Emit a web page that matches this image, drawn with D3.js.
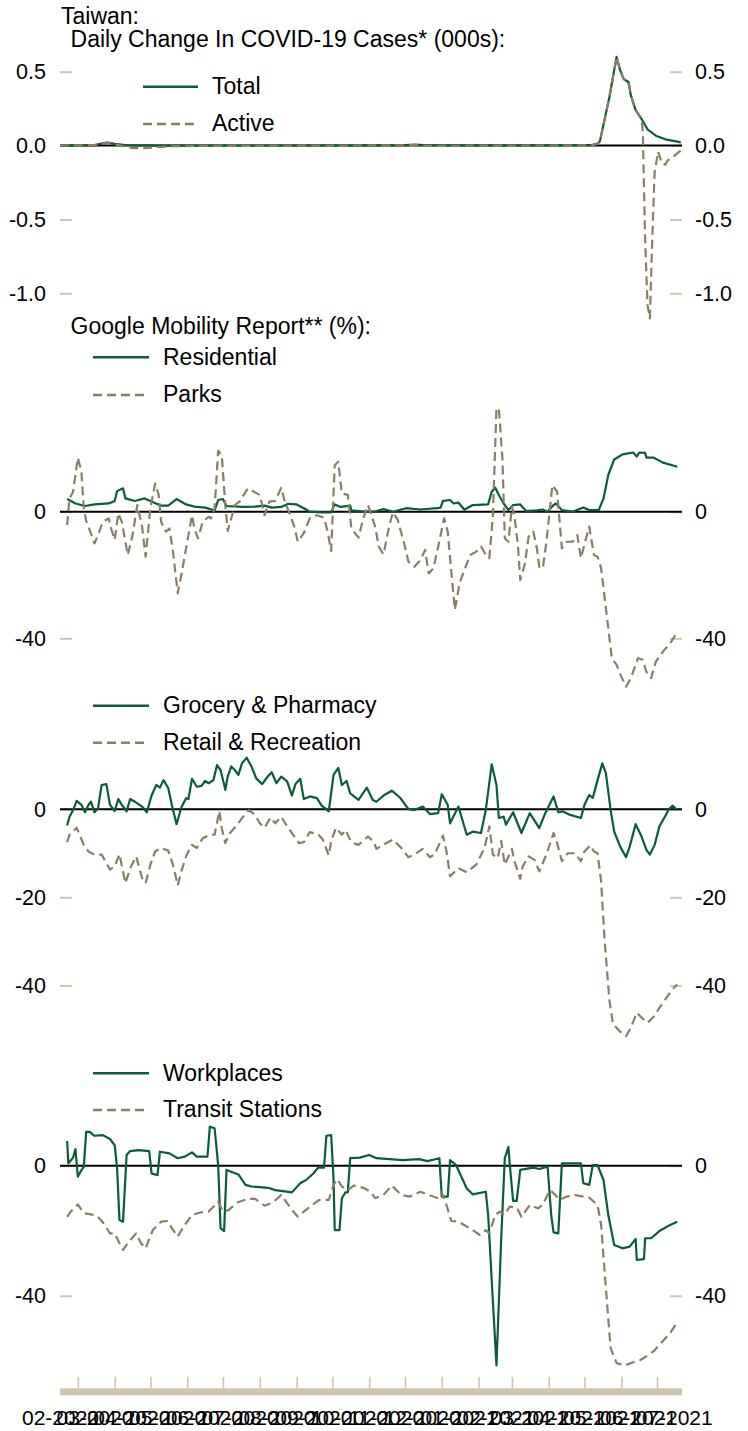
<!DOCTYPE html>
<html>
<head>
<meta charset="utf-8">
<script src="https://cdn.jsdelivr.net/npm/d3@7"></script>
<style>
  html, body { margin: 0; padding: 0; background: #ffffff; }
  svg { display: block; font-family: "Liberation Sans", Arial, sans-serif; }
</style>
</head>
<body>
<svg id="chart" width="748" height="1431"></svg>
<script>
// ---------------- DATA ----------------
const xStart = "2020-02-15";
const xEnd = "2021-07-22";
const monthTickStarts = ["2020-03-01","2020-04-01","2020-05-01","2020-06-01","2020-07-01","2020-08-01","2020-09-01","2020-10-01","2020-11-01","2020-12-01","2021-01-01","2021-02-01","2021-03-01","2021-04-01","2021-05-01","2021-06-01","2021-07-01"];
const monthLabels = ["02-2020","03-2020","04-2020","05-2020","06-2020","07-2020","08-2020","09-2020","10-2020","11-2020","12-2020","01-2021","02-2021","03-2021","04-2021","05-2021","06-2021","07-2021"];
const monthLabelDates = ["2020-02-15","2020-03-15","2020-04-15","2020-05-15","2020-06-15","2020-07-15","2020-08-15","2020-09-15","2020-10-15","2020-11-15","2020-12-15","2021-01-15","2021-02-15","2021-03-15","2021-04-15","2021-05-15","2021-06-15","2021-07-15"];

// Panel 1: daily change in COVID-19 cases (000s)
const casesTicks = [0.5, 0, -0.5, -1.0];
const casesTickLabels = ["0.5","0.0","-0.5","-1.0"];
const totalCases = [["2020-02-15",0],["2020-03-15",0.003],["2020-03-22",0.015],["2020-03-26",0.02],["2020-04-01",0.012],["2020-04-10",0.004],["2020-04-25",0.001],["2020-05-15",0],["2020-10-25",0.001],["2020-12-01",0.003],["2020-12-10",0.006],["2020-12-20",0.002],["2021-01-20",0.001],["2021-04-20",0.002],["2021-05-08",0.005],["2021-05-12",0.013],["2021-05-14",0.03],["2021-05-22",0.33],["2021-05-28",0.60],["2021-05-31",0.51],["2021-06-03",0.45],["2021-06-07",0.43],["2021-06-09",0.34],["2021-06-13",0.24],["2021-06-18",0.18],["2021-06-23",0.11],["2021-06-30",0.067],["2021-07-09",0.04],["2021-07-16",0.03],["2021-07-21",0.022]];
const activeCases = [["2020-02-15",0],["2020-03-15",0.003],["2020-03-22",0.015],["2020-03-26",0.02],["2020-04-01",0.008],["2020-04-08",-0.004],["2020-04-15",-0.015],["2020-04-25",-0.018],["2020-05-05",-0.012],["2020-05-20",-0.004],["2020-06-20",-0.002],["2020-09-01",-0.001],["2020-12-01",0.002],["2020-12-10",0.004],["2020-12-20",-0.002],["2021-01-20",-0.001],["2021-04-20",0.001],["2021-05-08",0.005],["2021-05-12",0.013],["2021-05-14",0.03],["2021-05-22",0.33],["2021-05-28",0.60],["2021-05-31",0.51],["2021-06-03",0.45],["2021-06-07",0.43],["2021-06-09",0.34],["2021-06-13",0.24],["2021-06-18",0.18],["2021-06-19",0.1],["2021-06-21",-0.63],["2021-06-23",-1.08],["2021-06-25",-1.17],["2021-06-27",-0.63],["2021-06-29",-0.18],["2021-07-02",-0.04],["2021-07-05",-0.12],["2021-07-08",-0.13],["2021-07-10",-0.1],["2021-07-14",-0.08],["2021-07-19",-0.045],["2021-07-21",-0.035]];

// Panel 2
const mobTicks2 = [0, -40];
const mobTickLabels2 = ["0","-40"];
const residential = [["2020-02-21",4.0],["2020-02-28",2.6],["2020-03-07",1.8],["2020-03-15",2.3],["2020-03-27",2.6],["2020-04-01",3.4],["2020-04-03",6.5],["2020-04-08",7.4],["2020-04-10",4.2],["2020-04-18",3.4],["2020-04-26",4.2],["2020-05-02",3.2],["2020-05-10",1.9],["2020-05-16",1.9],["2020-05-23",4.0],["2020-05-31",2.3],["2020-06-07",1.6],["2020-06-16",1.3],["2020-06-24",0.4],["2020-06-27",3.7],["2020-07-01",4.0],["2020-07-04",1.8],["2020-07-17",1.5],["2020-07-28",1.6],["2020-08-05",1.9],["2020-08-11",1.3],["2020-08-19",1.5],["2020-08-25",2.5],["2020-09-01",2.3],["2020-09-07",1.1],["2020-09-12",0],["2020-09-22",-0.2],["2020-09-30",-0.2],["2020-10-03",2.3],["2020-10-08",1.5],["2020-10-16",1.9],["2020-10-17",0.4],["2020-10-28",0],["2020-11-05",0],["2020-11-13",0.8],["2020-11-21",0],["2020-12-02",1.1],["2020-12-14",0.7],["2020-12-28",1.1],["2020-12-31",1.3],["2021-01-02",3.4],["2021-01-08",3.7],["2021-01-11",2.6],["2021-01-15",2.9],["2021-01-20",0.6],["2021-01-27",2.1],["2021-02-09",2.3],["2021-02-12",6.3],["2021-02-15",7.6],["2021-02-18",5.3],["2021-02-22",2.6],["2021-02-26",0.5],["2021-03-02",2.1],["2021-03-08",2.3],["2021-03-13",0.2],["2021-03-22",0.4],["2021-03-27",0.7],["2021-03-31",0],["2021-04-05",2.1],["2021-04-07",2.6],["2021-04-12",0.5],["2021-04-21",0],["2021-04-30",1.3],["2021-05-05",0.5],["2021-05-13",0.5],["2021-05-17",4.2],["2021-05-21",11.6],["2021-05-26",16.5],["2021-06-02",18.1],["2021-06-11",18.7],["2021-06-14",17.4],["2021-06-16",18.7],["2021-06-21",18.6],["2021-06-22",17.1],["2021-06-28",17.1],["2021-07-06",15.5],["2021-07-18",14.2]];
const parks = [["2020-02-21",-4.2],["2020-02-23",4.2],["2020-02-26",6.3],["2020-03-01",17.1],["2020-03-04",12.6],["2020-03-06",1.1],["2020-03-08",-2.9],["2020-03-11",-5.8],["2020-03-15",-10],["2020-03-18",-7.4],["2020-03-22",-3.2],["2020-03-27",-2.1],["2020-03-29",-5.3],["2020-04-01",-8.9],["2020-04-04",-0.5],["2020-04-07",-3.2],["2020-04-12",-13.7],["2020-04-16",-7.4],["2020-04-20",2.1],["2020-04-24",-4.7],["2020-04-27",-14.2],["2020-05-01",1.1],["2020-05-05",8.9],["2020-05-08",5.3],["2020-05-10",-3.2],["2020-05-14",-6.3],["2020-05-17",-5.3],["2020-05-20",-12.6],["2020-05-24",-25.8],["2020-05-27",-20],["2020-05-31",-11.6],["2020-06-05",-1.1],["2020-06-07",-5.3],["2020-06-10",-8.4],["2020-06-14",-3.2],["2020-06-19",-1.6],["2020-06-21",-2.1],["2020-06-24",1.1],["2020-06-27",19.2],["2020-06-30",17.9],["2020-07-03",2.1],["2020-07-05",-6.1],["2020-07-08",-2.1],["2020-07-11",2.1],["2020-07-15",3.2],["2020-07-22",7.4],["2020-07-28",6.1],["2020-08-01",5.3],["2020-08-05",-1.1],["2020-08-09",3.2],["2020-08-14",3.4],["2020-08-19",7.6],["2020-08-22",3.2],["2020-08-26",-0.5],["2020-08-30",-4.7],["2020-09-02",-9.5],["2020-09-07",-6.8],["2020-09-12",-2.1],["2020-09-18",-1.1],["2020-09-24",-1.9],["2020-09-27",-6.3],["2020-09-30",-12.4],["2020-10-03",14.7],["2020-10-06",15.8],["2020-10-09",5.8],["2020-10-14",5.3],["2020-10-17",-5.3],["2020-10-23",-8.2],["2020-10-27",-2.1],["2020-10-31",2.1],["2020-11-06",-4.7],["2020-11-09",-11],["2020-11-13",-13.5],["2020-11-18",-4.2],["2020-11-21",-0.2],["2020-11-25",-2.6],["2020-11-30",-9.5],["2020-12-04",-15.8],["2020-12-09",-17.4],["2020-12-14",-15.3],["2020-12-18",-12.1],["2020-12-21",-19.5],["2020-12-25",-17.9],["2020-12-29",-11],["2021-01-03",-2.1],["2021-01-06",-6.3],["2021-01-09",-18.9],["2021-01-12",-31],["2021-01-16",-22.6],["2021-01-20",-18.4],["2021-01-25",-13.7],["2021-01-30",-12.6],["2021-02-03",-11],["2021-02-08",-14.2],["2021-02-10",-14.7],["2021-02-13",-1.1],["2021-02-16",32.6],["2021-02-18",32.6],["2021-02-21",16.8],["2021-02-23",-8.4],["2021-02-26",-9.5],["2021-03-01",1.6],["2021-03-03",-1.1],["2021-03-06",-10.5],["2021-03-08",-21.6],["2021-03-12",-16.3],["2021-03-15",-7.9],["2021-03-19",-6.3],["2021-03-22",-11.6],["2021-03-24",-17.4],["2021-03-27",-17.9],["2021-03-30",-9.5],["2021-04-04",8.4],["2021-04-08",6.3],["2021-04-12",-11.6],["2021-04-16",-9.5],["2021-04-21",-9.5],["2021-04-25",-7.4],["2021-04-28",-14.7],["2021-05-03",-7.4],["2021-05-05",-4.7],["2021-05-09",-13.7],["2021-05-12",-14.2],["2021-05-15",-17.9],["2021-05-19",-30.5],["2021-05-24",-46.3],["2021-05-28",-48.4],["2021-06-01",-52.1],["2021-06-05",-55.3],["2021-06-09",-52.6],["2021-06-15",-46.3],["2021-06-19",-46.8],["2021-06-22",-50.5],["2021-06-26",-52.6],["2021-06-30",-47.4],["2021-07-06",-44.2],["2021-07-12",-41.6],["2021-07-17",-38.7]];

// Panel 3
const mobTicks3 = [0, -20, -40];
const mobTickLabels3 = ["0","-20","-40"];
const grocery = [["2020-02-21",-3.7],["2020-02-23",-1.7],["2020-02-26",-0.2],["2020-02-29",1.9],["2020-03-04",1.0],["2020-03-07",-0.7],["2020-03-10",1.0],["2020-03-12",1.7],["2020-03-15",-0.7],["2020-03-18",0.2],["2020-03-21",5.5],["2020-03-25",5.7],["2020-03-28",1.0],["2020-04-01",-0.4],["2020-04-04",2.3],["2020-04-07",1.0],["2020-04-11",-0.5],["2020-04-14",2.3],["2020-04-18",1.7],["2020-04-24",0.6],["2020-04-28",-0.7],["2020-05-02",3.1],["2020-05-06",5.5],["2020-05-09",4.9],["2020-05-12",6.6],["2020-05-16",4.8],["2020-05-19",1.0],["2020-05-23",-3.4],["2020-05-27",0.4],["2020-05-31",2.5],["2020-06-02",2.3],["2020-06-05",6.9],["2020-06-09",5.1],["2020-06-13",5.3],["2020-06-16",6.4],["2020-06-19",5.9],["2020-06-23",6.6],["2020-06-26",10],["2020-06-29",8.9],["2020-07-03",4.4],["2020-07-05",7.4],["2020-07-08",9.7],["2020-07-11",8.9],["2020-07-14",7.8],["2020-07-17",10.4],["2020-07-21",11.7],["2020-07-25",9.7],["2020-07-29",7.0],["2020-08-03",5.7],["2020-08-07",7.2],["2020-08-11",8.4],["2020-08-15",5.9],["2020-08-19",7.4],["2020-08-24",6.3],["2020-08-28",3.1],["2020-08-31",5.7],["2020-09-04",6.9],["2020-09-07",2.3],["2020-09-12",2.9],["2020-09-18",2.5],["2020-09-22",0.8],["2020-09-28",-0.5],["2020-10-02",7.8],["2020-10-06",9.4],["2020-10-09",5.5],["2020-10-13",6.4],["2020-10-16",3.6],["2020-10-23",2.1],["2020-10-30",4.9],["2020-11-04",2.1],["2020-11-07",1.7],["2020-11-13",3.1],["2020-11-20",4.2],["2020-11-27",2.6],["2020-12-04",0],["2020-12-09",-0.2],["2020-12-16",0.6],["2020-12-22",-1.1],["2020-12-29",-0.9],["2021-01-01",3.4],["2021-01-06",1.0],["2021-01-08",-3.2],["2021-01-15",0.6],["2021-01-22",-5.8],["2021-01-27",-5.1],["2021-02-03",-5.4],["2021-02-07",-0.2],["2021-02-12",10.2],["2021-02-16",5.5],["2021-02-18",-2.0],["2021-02-22",-1.7],["2021-02-24",-3.5],["2021-03-02",-0.7],["2021-03-09",-5.4],["2021-03-16",-0.9],["2021-03-24",-4.3],["2021-03-29",-0.9],["2021-04-05",2.9],["2021-04-09",-0.7],["2021-04-13",-0.5],["2021-04-19",-1.3],["2021-04-28",-2.0],["2021-05-01",1.0],["2021-05-05",3.2],["2021-05-08",2.6],["2021-05-12",6.6],["2021-05-16",10.4],["2021-05-19",8.2],["2021-05-23",-0.2],["2021-05-26",-5.1],["2021-05-31",-8.5],["2021-06-05",-10.9],["2021-06-08",-8.5],["2021-06-13",-3.4],["2021-06-18",-6.2],["2021-06-22",-9.2],["2021-06-25",-10.3],["2021-06-29",-8.1],["2021-07-03",-3.9],["2021-07-07",-2.0],["2021-07-11",0],["2021-07-14",0.8],["2021-07-18",-0.2]];
const retail = [["2020-02-21",-7.5],["2020-02-23",-5.8],["2020-02-29",-4.2],["2020-03-06",-8.1],["2020-03-10",-9.6],["2020-03-15",-10.3],["2020-03-21",-10.3],["2020-03-28",-13.7],["2020-04-01",-13],["2020-04-05",-10.2],["2020-04-10",-16.8],["2020-04-14",-13.4],["2020-04-19",-10.7],["2020-04-24",-15.6],["2020-04-27",-16.8],["2020-05-01",-12.6],["2020-05-05",-9.6],["2020-05-10",-8.8],["2020-05-16",-9.4],["2020-05-20",-12.6],["2020-05-24",-17.3],["2020-05-27",-14.1],["2020-05-31",-10.7],["2020-06-05",-8.1],["2020-06-09",-8.8],["2020-06-14",-6.6],["2020-06-20",-5.8],["2020-06-24",-5.8],["2020-06-28",-0.4],["2020-06-30",-4.3],["2020-07-03",-7.7],["2020-07-07",-5.4],["2020-07-13",-3.5],["2020-07-18",-1.7],["2020-07-23",-0.2],["2020-07-28",-1.3],["2020-08-01",-3.2],["2020-08-05",-4.2],["2020-08-10",-1.9],["2020-08-14",-3.2],["2020-08-19",-1.7],["2020-08-24",-3.9],["2020-08-28",-5.4],["2020-09-03",-7.7],["2020-09-07",-7.5],["2020-09-12",-5.2],["2020-09-19",-5.7],["2020-09-23",-6.9],["2020-09-28",-10.5],["2020-09-30",-7.3],["2020-10-04",-4.2],["2020-10-09",-5.8],["2020-10-12",-4.7],["2020-10-17",-7.5],["2020-10-23",-8.1],["2020-10-31",-6.2],["2020-11-05",-7.5],["2020-11-07",-9],["2020-11-14",-7.9],["2020-11-21",-6.9],["2020-11-28",-8.8],["2020-12-04",-10.9],["2020-12-09",-10.3],["2020-12-16",-9],["2020-12-22",-10.9],["2020-12-26",-10.3],["2021-01-02",-6],["2021-01-05",-9.6],["2021-01-08",-15.2],["2021-01-15",-13.4],["2021-01-22",-14.3],["2021-01-30",-12.6],["2021-02-06",-8.8],["2021-02-10",-3.9],["2021-02-13",-10.3],["2021-02-17",-11.1],["2021-02-20",-7.2],["2021-02-23",-12.6],["2021-03-01",-9],["2021-03-03",-11.7],["2021-03-08",-15.8],["2021-03-10",-13],["2021-03-15",-10.7],["2021-03-20",-11.5],["2021-03-24",-14.1],["2021-03-30",-10.3],["2021-04-05",-5.4],["2021-04-08",-7.7],["2021-04-12",-11.8],["2021-04-17",-10],["2021-04-23",-10],["2021-04-28",-11.8],["2021-05-01",-9.6],["2021-05-06",-8.2],["2021-05-09",-9.6],["2021-05-12",-10],["2021-05-15",-16.4],["2021-05-18",-30],["2021-05-22",-43.5],["2021-05-25",-48.8],["2021-05-31",-50.5],["2021-06-05",-51.5],["2021-06-09",-49.6],["2021-06-14",-46.2],["2021-06-18",-47.3],["2021-06-23",-48.5],["2021-06-29",-46.9],["2021-07-03",-45.1],["2021-07-09",-42.8],["2021-07-14",-40.9],["2021-07-18",-39.8]];

// Panel 4
const mobTicks4 = [0, -40];
const mobTickLabels4 = ["0","-40"];
const workplaces = [["2020-02-21",7.6],["2020-02-22",0.7],["2020-02-26",2.5],["2020-02-28",5.1],["2020-03-01",-3.4],["2020-03-03",-2.0],["2020-03-06",-0.3],["2020-03-08",10.4],["2020-03-11",10.4],["2020-03-15",9.2],["2020-03-22",9.4],["2020-03-28",8.2],["2020-04-01",6.3],["2020-04-03",-0.8],["2020-04-05",-16.7],["2020-04-08",-17.2],["2020-04-11",3.3],["2020-04-14",4.5],["2020-04-21",4.8],["2020-04-30",4.5],["2020-05-02",-2.4],["2020-05-07",-2.9],["2020-05-09",4.3],["2020-05-17",3.8],["2020-05-24",2.3],["2020-05-30",2.8],["2020-06-05",4.1],["2020-06-09",2.8],["2020-06-18",2.8],["2020-06-20",12],["2020-06-24",11.5],["2020-06-27",0.2],["2020-06-29",-19.2],["2020-07-02",-20.1],["2020-07-04",-1.3],["2020-07-14",-2.7],["2020-07-20",-5.9],["2020-07-25",-6.4],["2020-08-08",-6.8],["2020-08-14",-7.5],["2020-08-28",-8.2],["2020-09-04",-5.4],["2020-09-09",-4.4],["2020-09-15",-2.4],["2020-09-19",-0.6],["2020-09-24",-0.6],["2020-09-26",9.2],["2020-09-30",9.4],["2020-10-02",-3.9],["2020-10-03",-19.8],["2020-10-07",-19.8],["2020-10-09",-10],["2020-10-12",-8.2],["2020-10-14",-8.2],["2020-10-16",2.3],["2020-10-24",2.5],["2020-11-01",3.3],["2020-11-07",2.3],["2020-11-18",2.0],["2020-11-29",1.7],["2020-12-13",2.0],["2020-12-20",1.4],["2020-12-30",2.3],["2021-01-01",-9.5],["2021-01-06",-9.5],["2021-01-08",1.7],["2021-01-13",0.2],["2021-01-22",-7],["2021-01-27",-8.8],["2021-02-07",-8],["2021-02-09",-15.1],["2021-02-13",-41.8],["2021-02-16",-61.4],["2021-02-20",-22.3],["2021-02-23",2.3],["2021-02-26",5.8],["2021-02-28",-2.9],["2021-03-02",-10.8],["2021-03-05",-10.8],["2021-03-08",-1.3],["2021-03-19",-0.6],["2021-03-24",-1.0],["2021-03-31",-0.3],["2021-04-03",-15.1],["2021-04-05",-20.5],["2021-04-09",-20.8],["2021-04-12",0.7],["2021-04-19",0.7],["2021-04-28",0.7],["2021-04-30",-5.4],["2021-05-05",-5.9],["2021-05-08",0.2],["2021-05-12",0.2],["2021-05-17",-4.4],["2021-05-21",-15.1],["2021-05-26",-24.4],["2021-06-02",-25.4],["2021-06-08",-24.9],["2021-06-13",-22.5],["2021-06-14",-29],["2021-06-20",-28.7],["2021-06-21",-22.3],["2021-06-26",-22.3],["2021-07-03",-20.1],["2021-07-12",-18.2],["2021-07-18",-17.2]];
const transit = [["2020-02-21",-15.7],["2020-02-24",-14.1],["2020-03-01",-11.9],["2020-03-06",-14.6],["2020-03-11",-14.9],["2020-03-17",-15.4],["2020-03-22",-17.4],["2020-03-28",-20.8],["2020-04-01",-20.8],["2020-04-04",-23.1],["2020-04-08",-25.9],["2020-04-12",-23.8],["2020-04-19",-20.8],["2020-04-23",-23.8],["2020-04-27",-25.4],["2020-05-03",-19.8],["2020-05-10",-17.2],["2020-05-16",-17],["2020-05-19",-19.2],["2020-05-24",-21.8],["2020-05-29",-18.7],["2020-06-05",-15.1],["2020-06-13",-14.3],["2020-06-19",-14.1],["2020-06-23",-12.6],["2020-06-27",-11.1],["2020-07-01",-14.1],["2020-07-06",-13.6],["2020-07-13",-11.3],["2020-07-22",-10.2],["2020-07-28",-10.2],["2020-08-05",-12.3],["2020-08-12",-11.3],["2020-08-19",-9],["2020-08-28",-13.6],["2020-09-02",-15.7],["2020-09-07",-14.1],["2020-09-14",-12.1],["2020-09-20",-10.5],["2020-09-28",-10.5],["2020-10-02",-5.9],["2020-10-05",-4.1],["2020-10-09",-6.4],["2020-10-14",-7.5],["2020-10-19",-6.1],["2020-10-27",-6.8],["2020-11-02",-8],["2020-11-06",-10],["2020-11-13",-9],["2020-11-20",-6.1],["2020-11-28",-9],["2020-12-05",-9.5],["2020-12-14",-8],["2020-12-21",-9],["2020-12-29",-10],["2021-01-01",-8.2],["2021-01-05",-12.1],["2021-01-09",-17],["2021-01-15",-17.2],["2021-01-22",-18.7],["2021-01-27",-19.8],["2021-02-02",-21.3],["2021-02-07",-19.8],["2021-02-10",-20.8],["2021-02-15",-15.1],["2021-02-19",-14.1],["2021-02-23",-15.1],["2021-02-27",-12.6],["2021-03-05",-12.9],["2021-03-09",-15.7],["2021-03-16",-12.1],["2021-03-23",-13.1],["2021-03-27",-11.9],["2021-04-02",-7.5],["2021-04-06",-8.8],["2021-04-10",-10.5],["2021-04-16",-9.5],["2021-04-23",-9],["2021-04-30",-9.5],["2021-05-05",-9.8],["2021-05-12",-12.1],["2021-05-15",-18.2],["2021-05-19",-37.7],["2021-05-23",-56.1],["2021-05-28",-60.7],["2021-06-04",-61.4],["2021-06-11",-60.4],["2021-06-16",-60],["2021-06-22",-58.6],["2021-06-28",-57.1],["2021-07-03",-55.1],["2021-07-12",-51.5],["2021-07-17",-48.7]];

// ---------------- DRAW ----------------
const GREEN = "#0b5c37";
const TAN = "#8c7e63";
const TICK = "#cfc6b0";
const DASH = "9,5";
const FONT = "Liberation Sans, Arial, sans-serif";
const TEXT_SIZE = 23;
const TICK_SIZE = 21.5;

const parse = d3.timeParse("%Y-%m-%d");
const svg = d3.select("#chart");
svg.append("rect").attr("width", 748).attr("height", 1431).attr("fill", "#fff");

const x = d3.scaleTime().domain([parse(xStart), parse(xEnd)]).range([60, 682]);

const panels = [
  { domain: [-1, 0.5], range: [293.3, 71.7], ticks: casesTicks, labels: casesTickLabels,
    series: [{ data: totalCases, color: GREEN, dash: null, name: "Total" },
             { data: activeCases, color: TAN, dash: DASH, name: "Active" }],
    legend: { x1: 143, x2: 198, tx: 212, ys: [86.7, 124] } },
  { domain: [-40, 0], range: [638.3, 511.7], ticks: mobTicks2, labels: mobTickLabels2,
    series: [{ data: residential, color: GREEN, dash: null, name: "Residential" },
             { data: parks, color: TAN, dash: DASH, name: "Parks" }],
    legend: { x1: 93, x2: 149, tx: 163, ys: [357.3, 395] } },
  { domain: [-40, 0], range: [985.4, 809.2], ticks: mobTicks3, labels: mobTickLabels3,
    series: [{ data: grocery, color: GREEN, dash: null, name: "Grocery & Pharmacy" },
             { data: retail, color: TAN, dash: DASH, name: "Retail & Recreation" }],
    legend: { x1: 93, x2: 149, tx: 163, ys: [705.7, 742.7] } },
  { domain: [-40, 0], range: [1295.8, 1165.7], ticks: mobTicks4, labels: mobTickLabels4,
    series: [{ data: workplaces, color: GREEN, dash: null, name: "Workplaces" },
             { data: transit, color: TAN, dash: DASH, name: "Transit Stations" }],
    legend: { x1: 93, x2: 149, tx: 163, ys: [1073.3, 1110] } }
];

// titles
svg.append("text").attr("x", 61).attr("y", 24).attr("font-size", TEXT_SIZE).text("Taiwan:");
svg.append("text").attr("x", 70.6).attr("y", 47.3).attr("font-size", TEXT_SIZE).text("Daily Change In COVID-19 Cases* (000s):");
svg.append("text").attr("x", 70.6).attr("y", 334).attr("font-size", TEXT_SIZE).text("Google Mobility Report** (%):");

panels.forEach(p => {
  const y = d3.scaleLinear().domain(p.domain).range(p.range);
  const g = svg.append("g");

  const fmt = (d) => p.labels[p.ticks.indexOf(d)];
  const left = g.append("g").attr("transform", "translate(60,0)")
    .call(d3.axisLeft(y).tickValues(p.ticks).tickFormat(fmt).tickSize(-12).tickPadding(14));
  const right = g.append("g").attr("transform", "translate(682,0)")
    .call(d3.axisRight(y).tickValues(p.ticks).tickFormat(fmt).tickSize(-12).tickPadding(13));
  [left, right].forEach(a => {
    a.select(".domain").remove();
    a.selectAll(".tick line").attr("stroke", TICK).attr("stroke-width", 2);
    a.selectAll(".tick text").attr("fill", "#000").attr("font-size", TICK_SIZE).attr("font-family", FONT);
  });

  // zero line
  g.append("line").attr("x1", 60).attr("x2", 682).attr("y1", y(0)).attr("y2", y(0))
    .attr("stroke", "#000").attr("stroke-width", 2);

  const line = d3.line().x(d => x(parse(d[0]))).y(d => y(d[1])).curve(d3.curveLinear);
  p.series.forEach(s => {
    g.append("path").datum(s.data).attr("d", line)
      .attr("fill", "none").attr("stroke", s.color).attr("stroke-width", 2.2)
      .attr("stroke-linejoin", "round")
      .attr("stroke-dasharray", s.dash);
  });

  // legend
  p.series.forEach((s, i) => {
    const ly = p.legend.ys[i];
    g.append("line").attr("x1", p.legend.x1).attr("x2", p.legend.x2).attr("y1", ly).attr("y2", ly)
      .attr("stroke", s.color).attr("stroke-width", 2.4).attr("stroke-dasharray", s.dash);
    g.append("text").attr("x", p.legend.tx).attr("y", ly + 7.4).attr("font-size", TEXT_SIZE).text(s.name);
  });
});

// bottom axis band + month ticks
svg.append("rect").attr("x", 60).attr("y", 1388.3).attr("width", 622).attr("height", 7).attr("fill", TICK);
const tickAxis = svg.append("g").attr("transform", "translate(0,1388.3)")
  .call(d3.axisTop(x).tickValues(monthTickStarts.map(parse)).tickSize(11.5).tickFormat(""));
tickAxis.select(".domain").remove();
tickAxis.selectAll(".tick line").attr("stroke", TICK).attr("stroke-width", 1.6);

const labelAxis = svg.append("g").attr("transform", "translate(0,1395)")
  .call(d3.axisBottom(x).tickValues(monthLabelDates.map(parse))
    .tickFormat((d, i) => monthLabels[i]).tickSize(0).tickPadding(0));
labelAxis.select(".domain").remove();
labelAxis.selectAll(".tick text").attr("fill", "#000").attr("font-size", 21).attr("font-family", FONT)
  .attr("dy", null).attr("y", 30);

svg.selectAll("text").attr("font-family", FONT);
</script>
</body>
</html>
